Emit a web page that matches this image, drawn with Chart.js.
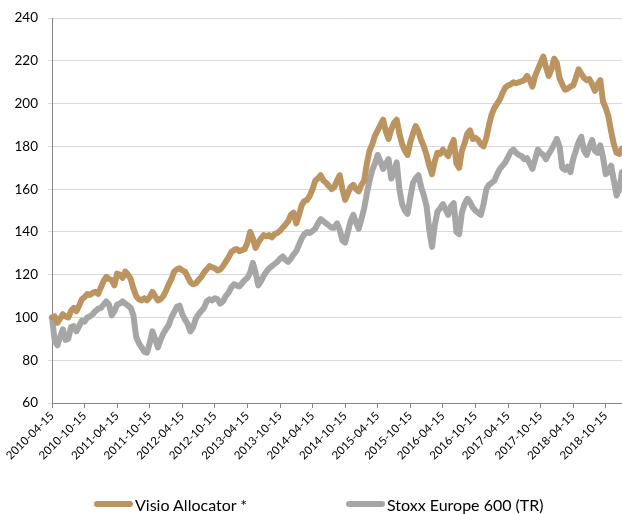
<!DOCTYPE html>
<html>
<head>
<meta charset="utf-8">
<script src="https://cdn.jsdelivr.net/npm/chart.js@4.4.1/dist/chart.umd.min.js"></script>
<style>
  html, body { margin: 0; padding: 0; background: #fff; overflow: hidden; }
  #wrap { position: relative; width: 622px; height: 514px; }
  .leg { position: absolute; top: 495px; height: 18px; line-height: 18px; display: flex; align-items: center;
         font: 16px Lato, sans-serif; color: #000; white-space: nowrap; }
  .leg i { display: inline-block; width: 39px; height: 6px; border-radius: 3px; margin-right: 2px; }
</style>
</head>
<body>
<div id="wrap">
  <canvas id="myChart" width="622" height="514"></canvas>
  <div class="leg" id="leg0" style="left:94px"></div>
  <div class="leg" id="leg1" style="left:346px"></div>
</div>
<script>
// tick labels shown on the x axis (every six months)
const tickLabels = ['2010-04-15', '2010-10-15', '2011-04-15', '2011-10-15', '2012-04-15', '2012-10-15',
  '2013-04-15', '2013-10-15', '2014-04-15', '2014-10-15', '2015-04-15', '2015-10-15',
  '2016-04-15', '2016-10-15', '2017-04-15', '2017-10-15', '2018-04-15', '2018-10-15'];

// Visio Allocator * (semi-monthly, 2010-04-15 .. 2019-01-15)
const visio = [
  100, 100.5, 97.5, 99.5, 101.5, 100.5, 100, 103, 104.5, 103, 105.5, 108.5,
  109.5, 111, 110.5, 111.5, 112, 111, 114, 117, 119, 118, 117.5, 115,
  120.5, 120, 118.5, 121.5, 120, 118, 113.5, 110, 108.5, 108, 109, 108,
  109.5, 112, 110, 108, 108.5, 110, 112.5, 115.5, 118, 121.5, 122.5, 123,
  122, 121.5, 119, 116.5, 115.5, 116, 117.5, 119, 121, 122.5, 124, 123.5,
  123, 122, 122.5, 124, 126, 128, 130.5, 131.5, 132, 131, 131.5, 132,
  135, 140, 137, 132.5, 135, 137, 138.5, 138, 138.5, 137.5, 139, 139.5,
  140.5, 142, 143.5, 145, 148, 149, 144, 148, 152.5, 154.5, 155, 157,
  160, 164, 165, 166.5, 164, 163, 161.5, 160, 161, 164, 166.5, 160,
  155, 158, 161, 162, 160, 159, 162, 164, 172, 178, 181, 185,
  187.5, 190, 192.5, 187, 183.5, 188, 191, 192.5, 186, 181, 178, 176,
  182, 186, 189.5, 187, 183, 180, 176, 171, 167, 173, 177, 176.5,
  178.5, 177, 175.5, 180, 183, 172, 170, 178, 181.5, 186, 187.5, 183.5,
  184, 183, 181, 180, 184, 190, 195, 198, 200, 202, 205, 207.5,
  208.5, 209, 210, 209.5, 210, 210.5, 211, 213, 211, 208, 213, 216,
  219, 222, 217, 213, 216, 221, 219, 212, 209, 206.5, 207, 208,
  208.5, 212, 216, 214, 212, 211, 211.5, 209, 206, 209, 211, 201,
  198, 194, 187, 181, 177, 176.5, 179
];

// Stoxx Europe 600 (TR)
const stoxx = [
  100, 89, 87, 91, 94.5, 89.5, 90, 95.5, 96, 93.5, 96, 98.5,
  98, 100, 100.5, 101.5, 103, 104, 104.5, 106, 107.5, 106, 101, 103,
  106, 106.5, 107.5, 106.5, 105.5, 104.5, 101, 91, 88, 86, 84, 83.5,
  88, 93.5, 90, 86, 89.5, 92.5, 94.5, 96.5, 100, 102.5, 105, 105.5,
  101.5, 99, 97, 93.5, 95.5, 99.5, 101.5, 103, 104.5, 107.5, 108.5, 108,
  109, 108.5, 106.5, 107.5, 110, 111.5, 114, 115.5, 115, 114.5, 116, 117.5,
  118.5, 121, 125.5, 121, 115, 117, 119.5, 121.5, 123, 124, 125, 126,
  127.5, 128.5, 127, 126, 127.5, 129.5, 131, 134, 137, 139, 140, 139.5,
  140.5, 141.5, 144, 146, 145, 144, 143, 142, 142, 144, 141, 136,
  135, 140, 145, 148, 144.5, 141.5, 146, 151, 158, 164, 169, 172,
  176, 173, 169.5, 172, 174, 165, 168, 172.5, 160, 153, 150, 148.5,
  156, 163, 165, 166.5, 161, 157, 152, 141, 133, 143, 149.5, 151,
  153, 150.5, 148, 152, 153.5, 140, 139, 149, 153, 155.5, 154, 151.5,
  150, 149, 148, 153, 160, 162, 163, 164, 167, 169.5, 171, 172.5,
  175, 177.5, 178.5, 177, 176, 175.5, 174, 174.5, 172, 169.5, 174, 178.5,
  177, 176, 174, 176.5, 178.5, 181, 183.5, 180, 170, 169, 170.5, 168,
  174, 178, 182, 184.5, 178, 176, 180, 183, 178, 177, 180.5, 175,
  167, 168, 171, 164, 157, 160, 168
];

const seriesNames = ['Visio Allocator *', 'Stoxx Europe 600 (TR)'];
const seriesColors = ['#BC9460', '#A6A6A6'];

// category labels: the 15th and the last day of every month
const dates = [];
for (let i = 0; i < visio.length; i++) {
  const m = 3 + Math.floor(i / 2);
  const y = 2010 + Math.floor(m / 12);
  const mo = m % 12;
  const day = i % 2 === 0 ? 15 : new Date(y, mo + 1, 0).getDate();
  dates.push(y + '-' + String(mo + 1).padStart(2, '0') + '-' + String(day).padStart(2, '0'));
}

const ctx = document.getElementById('myChart');

const chart = new Chart(ctx, {
  type: 'line',
  data: {
    labels: dates,
    datasets: [{
      label: seriesNames[0],
      data: visio,
      borderColor: seriesColors[0],
      backgroundColor: seriesColors[0]
    }, {
      label: seriesNames[1],
      data: stoxx,
      borderColor: seriesColors[1],
      backgroundColor: seriesColors[1]
    }]
  },
  options: {
    responsive: false,
    animation: false,
    layout: { padding: { top: 15, right: 0, bottom: 41, left: 0 } },
    elements: {
      point: { radius: 0 },
      line: { borderWidth: 6, tension: 0, borderJoinStyle: 'round', borderCapStyle: 'round' }
    },
    plugins: {
      legend: { display: false },
      tooltip: { enabled: false }
    },
    scales: {
      x: {
        grid: { drawOnChartArea: false, drawTicks: true, tickLength: 5, color: '#868686' },
        border: { color: '#868686' },
        ticks: {
          autoSkip: false, minRotation: 45, maxRotation: 45, padding: 1,
          color: '#000', font: { family: 'Lato', size: 11.5 }
        },
        afterBuildTicks: s => { s.ticks = s.ticks.filter(t => tickLabels.includes(dates[t.value])); },
        afterFit: s => { s.height = 70; }
      },
      y: {
        min: 60,
        max: 240,
        grid: { color: '#D9D9D9', tickLength: 4 },
        border: { color: '#868686' },
        ticks: { stepSize: 20, padding: 10, color: '#000', font: { family: 'Lato', size: 13.5 } },
        afterFit: s => { s.width = 52; }
      }
    }
  }
});

// legend below the chart, built from the datasets
chart.data.datasets.forEach((ds, i) => {
  const el = document.getElementById('leg' + i);
  const sw = document.createElement('i');
  sw.style.background = ds.borderColor;
  el.appendChild(sw);
  el.appendChild(document.createTextNode(ds.label));
});
</script>
</body>
</html>
